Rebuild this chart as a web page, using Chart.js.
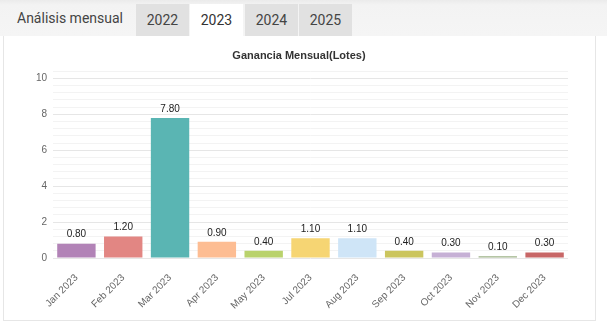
<!DOCTYPE html>
<html>
<head>
<meta charset="utf-8">
<script src="https://cdn.jsdelivr.net/npm/chart.js@4.4.0/dist/chart.umd.min.js"></script>
<style>
  html, body { margin: 0; padding: 0; background: #ffffff; width: 607px; height: 328px; overflow: hidden; font-family: Roboto, "Liberation Sans", sans-serif; }
  #header { position: absolute; left: 0; top: 0; width: 607px; height: 36px; background: linear-gradient(#ebebeb 0px, #f3f3f3 5px, #f5f5f5 36px); }
  #header .title { position: absolute; left: 17px; top: 10px; font-size: 14px; color: #444; }
  .tab { position: absolute; top: 4px; height: 32px; width: 53px; background: #e1e1e1; color: #444; font-size: 14px; line-height: 32px; text-align: center; }
  .tab.active { background: #ffffff; color: #333; }
  #card { position: absolute; left: 3px; top: 36px; width: 591px; height: 284px; border-left: 1px solid #e6e6e6; border-right: 1px solid #e6e6e6; border-bottom: 1px solid #e6e6e6; background: #fff; }
  #wrap { position: absolute; left: 3px; top: 37px; width: 592px; height: 283px; }
</style>
</head>
<body>
<div id="header">
  <div class="title">Análisis mensual</div>
  <div class="tab" style="left:136px">2022</div>
  <div class="tab active" style="left:190px">2023</div>
  <div class="tab" style="left:245px">2024</div>
  <div class="tab" style="left:299px">2025</div>
</div>
<div id="card"></div>
<div id="wrap"><canvas id="c" width="592" height="283"></canvas></div>
<script>
const categories = ["Jan 2023","Feb 2023","Mar 2023","Apr 2023","May 2023","Jul 2023","Aug 2023","Sep 2023","Oct 2023","Nov 2023","Dec 2023"];
const values = [0.8, 1.2, 7.8, 0.9, 0.4, 1.1, 1.1, 0.4, 0.3, 0.1, 0.3];
const barColors = ["#b283b7","#e28683","#5ab5b3","#fdbd93","#b9d26c","#f6d573","#cfe5f7","#cbc55e","#c6b0d5","#9db287","#c86767"];
const yMax = 10.4;
const yStep = 0.4;

const valueLabels = {
  id: 'valueLabels',
  afterDatasetsDraw(chart) {
    const ctx = chart.ctx;
    const meta = chart.getDatasetMeta(0);
    ctx.save();
    ctx.font = '10px "Liberation Sans", Arial, sans-serif';
    ctx.fillStyle = '#222';
    ctx.textAlign = 'center';
    ctx.textBaseline = 'bottom';
    meta.data.forEach((bar, i) => {
      ctx.fillText(values[i].toFixed(2), bar.x, bar.y - 4);
    });
    ctx.restore();
  }
};

new Chart(document.getElementById('c'), {
  type: 'bar',
  data: {
    labels: categories,
    datasets: [{
      data: values,
      backgroundColor: barColors,
      borderWidth: 0,
      barPercentage: 1,
      categoryPercentage: 0.82
    }]
  },
  options: {
    responsive: false,
    animation: false,
    layout: { padding: 0 },
    plugins: {
      legend: { display: false },
      tooltip: { enabled: false },
      title: {
        display: true,
        text: 'Ganancia Mensual(Lotes)',
        color: '#333',
        font: { family: '"Liberation Sans", Arial, sans-serif', size: 11, weight: 'bold' },
        padding: { top: 12, bottom: 9 }
      }
    },
    scales: {
      x: {
        grid: { display: false },
        border: { display: false },
        ticks: {
          color: '#666',
          font: { family: '"Liberation Sans", Arial, sans-serif', size: 10 },
          minRotation: 45, maxRotation: 45,
          padding: 6
        },
        afterFit(scale) { scale.height = 62; }
      },
      y: {
        min: 0, max: yMax,
        border: { display: false },
        grid: {
          drawTicks: false,
          color(ctx) { return (ctx.index % 5 === 0) ? '#e6e6e6' : '#f3f3f3'; }
        },
        ticks: {
          stepSize: yStep,
          autoSkip: false,
          color: '#666',
          padding: 6,
          font: { family: '"Liberation Sans", Arial, sans-serif', size: 10 },
          callback(v, i) { return (i % 5 === 0) ? String(Math.round(v)) : ''; }
        },
        afterFit(scale) { scale.width = 50; }
      },
      spacer: {
        type: 'linear',
        position: 'right',
        display: true,
        grid: { display: false },
        border: { display: false },
        ticks: { display: false },
        afterFit(scale) { scale.width = 27; }
      }
    }
  },
  plugins: [valueLabels]
});
</script>
</body>
</html>
